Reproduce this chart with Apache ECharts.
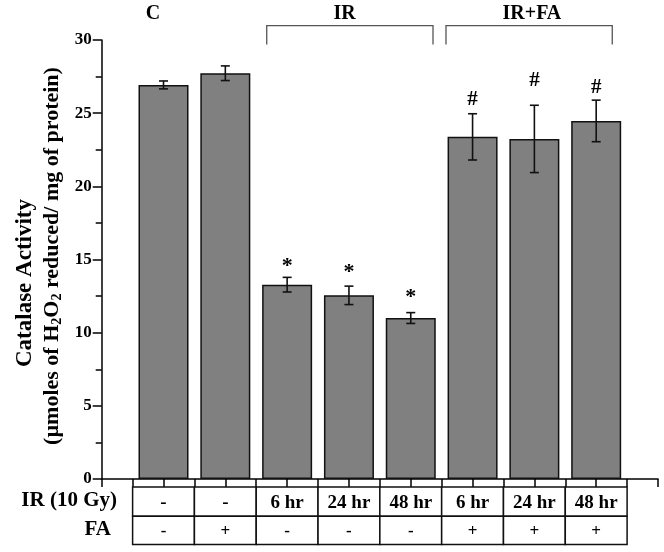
<!DOCTYPE html>
<html>
<head>
<meta charset="utf-8">
<script src="https://cdn.jsdelivr.net/npm/echarts@6/dist/echarts.min.js"></script>
<style>
html,body{margin:0;padding:0;background:#fff;}
#chart{width:664px;height:552px;}
</style>
</head>
<body>
<div id="chart"></div>
<script>
// ---- data ----
var xPositions = [1, 2, 3, 4, 5, 6, 7, 8];
var means = [26.93, 27.73, 13.28, 12.55, 11.0, 23.38, 23.24, 24.47];
var errors = [0.27, 0.5, 0.5, 0.63, 0.37, 1.58, 2.3, 1.42];
var irRow = ['-', '-', '6 hr', '24 hr', '48 hr', '6 hr', '24 hr', '48 hr'];
var faRow = ['-', '+', '-', '-', '-', '+', '+', '+'];
var markText = ['', '', '*', '*', '*', '#', '#', '#'];
var markY = [null, null, 14.9, 14.44, 12.73, 25.9, 27.22, 26.75];
var groupNames = ['C', 'IR', 'IR+FA'];
var groupLabelX = [0.83, 3.93, 6.96];
var bracketRanges = [[2.67, 5.36], [5.57, 8.26]];
var yTicks = [0, 5, 10, 15, 20, 25, 30];

var FONT = '"Liberation Serif", "Times New Roman", serif';
var chart = echarts.init(document.getElementById('chart'));

var barData = xPositions.map(function (x, i) { return [x, means[i]]; });
var errData = xPositions.map(function (x, i) { return [x, means[i], errors[i]]; });
var markData = [];
xPositions.forEach(function (x, i) { if (markY[i] != null) markData.push({ value: [x, markY[i]], txt: markText[i] }); });
var tableData = xPositions.map(function (x, i) { return [x, i]; });

var option = {
  animation: false,
  backgroundColor: '#fff',
  grid: { left: 101.7, right: 6, top: 40, bottom: 73, containLabel: false },
  xAxis: {
    type: 'value', min: 0, max: 9, interval: 0.5,
    axisLine: { show: true, lineStyle: { color: '#000', width: 1.5 } },
    axisTick: { show: true, inside: false, length: 8, lineStyle: { color: '#000', width: 1.5 } },
    axisLabel: { show: false },
    splitLine: { show: false }
  },
  yAxis: {
    type: 'value', min: yTicks[0], max: yTicks[yTicks.length - 1], interval: 5,
    axisLine: { show: true, lineStyle: { color: '#000', width: 1.5 } },
    axisTick: { show: true, inside: false, length: 9, lineStyle: { color: '#000', width: 1.5 } },
    minorTick: { show: true, splitNumber: 2, length: 6, lineStyle: { color: '#000', width: 1.5 } },
    axisLabel: { fontFamily: FONT, fontWeight: 'bold', fontSize: 17, color: '#000', margin: 10 },
    splitLine: { show: false }
  },
  series: [
    {
      type: 'bar', data: barData, barWidth: 50,
      itemStyle: { color: '#808080', borderColor: '#111', borderWidth: 1.5 },
      z: 2
    },
    {
      type: 'custom', data: errData, z: 5, clip: false,
      renderItem: function (params, api) {
        var x = api.value(0), m = api.value(1), e = api.value(2);
        var top = api.coord([x, m + e]);
        var bot = api.coord([x, m - e]);
        var hw = 4.5;
        var st = { stroke: '#111', lineWidth: 1.6 };
        return { type: 'group', children: [
          { type: 'line', shape: { x1: top[0], y1: top[1], x2: bot[0], y2: bot[1] }, style: st },
          { type: 'line', shape: { x1: top[0] - hw, y1: top[1], x2: top[0] + hw, y2: top[1] }, style: st },
          { type: 'line', shape: { x1: bot[0] - hw, y1: bot[1], x2: bot[0] + hw, y2: bot[1] }, style: st }
        ]};
      }
    },
    {
      type: 'custom', data: markData.map(function (d) { return d.value; }), z: 6, clip: false,
      renderItem: function (params, api) {
        var p = api.coord([api.value(0), api.value(1)]);
        var t = markData[params.dataIndex].txt;
        return { type: 'text', style: {
          text: t, x: p[0], y: t === '*' ? p[1] + 5 : p[1],
          align: 'center', verticalAlign: 'middle',
          font: 'bold ' + (t === '*' ? 22 : 21) + 'px ' + FONT, fill: '#000'
        }};
      }
    },
    {
      type: 'custom', data: bracketRanges, z: 6, clip: false,
      renderItem: function (params, api) {
        var a = api.coord([api.value(0), 30.98]);
        var b = api.coord([api.value(1), 29.7]);
        var st = { stroke: '#555', lineWidth: 1.3, fill: null };
        return { type: 'polyline', shape: { points: [[a[0], b[1]], [a[0], a[1]], [b[0], a[1]], [b[0], b[1]]] }, style: st };
      }
    },
    {
      type: 'custom', data: groupLabelX.map(function (x, i) { return [x, 31.8]; }), z: 6, clip: false,
      renderItem: function (params, api) {
        var p = api.coord([api.value(0), api.value(1)]);
        return { type: 'text', style: {
          text: groupNames[params.dataIndex], x: p[0], y: p[1],
          align: 'center', verticalAlign: 'middle', font: 'bold 20px ' + FONT, fill: '#000'
        }};
      }
    },
    {
      type: 'custom', data: tableData, z: 6, clip: false,
      renderItem: function (params, api) {
        var x = api.value(0), i = params.dataIndex;
        var l = api.coord([x - 0.5, 0]);
        var r = api.coord([x + 0.5, 0]);
        var y0 = l[1] + 8, y1 = y0 + 29.3, y2 = y1 + 28.3;
        var st = { stroke: '#111', lineWidth: 1.5, fill: '#fff' };
        var cx = (l[0] + r[0]) / 2;
        return { type: 'group', children: [
          { type: 'rect', shape: { x: l[0], y: y0, width: r[0] - l[0], height: y1 - y0 }, style: st },
          { type: 'rect', shape: { x: l[0], y: y1, width: r[0] - l[0], height: y2 - y1 }, style: st },
          { type: 'text', style: { text: irRow[i], x: cx, y: (y0 + y1) / 2 + 1, align: 'center', verticalAlign: 'middle', font: 'bold 19px ' + FONT, fill: '#000' } },
          { type: 'text', style: { text: faRow[i], x: cx, y: (y1 + y2) / 2 + 1, align: 'center', verticalAlign: 'middle', font: 'bold 17px ' + FONT, fill: '#000' } }
        ]};
      }
    }
  ],
  graphic: [
    { type: 'text', x: 117, y: 501, style: { text: 'IR (10 Gy)', font: 'bold 21px ' + FONT, fill: '#000', align: 'right', verticalAlign: 'middle' } },
    { type: 'text', x: 111, y: 530, style: { text: 'FA', font: 'bold 21px ' + FONT, fill: '#000', align: 'right', verticalAlign: 'middle' } },
    { type: 'text', x: 25, y: 283, rotation: Math.PI / 2,
      style: { text: 'Catalase Activity', font: 'bold 23px ' + FONT, fill: '#000', align: 'center', verticalAlign: 'middle' } },
    { type: 'text', x: 52, y: 256, rotation: Math.PI / 2,
      style: {
        text: '{n|(µmoles of H}{s|2}{n|O}{s|2}{n| reduced/ mg of protein)}',
        align: 'center', verticalAlign: 'middle',
        rich: {
          n: { fontFamily: FONT, fontWeight: 'bold', fontSize: 22, lineHeight: 24, color: '#000' },
          s: { fontFamily: FONT, fontWeight: 'bold', fontSize: 14, lineHeight: 14, verticalAlign: 'bottom', padding: [9, 0, 0, 0], color: '#000' }
        }
      } }
  ]
};
chart.setOption(option);
</script>
</body>
</html>
